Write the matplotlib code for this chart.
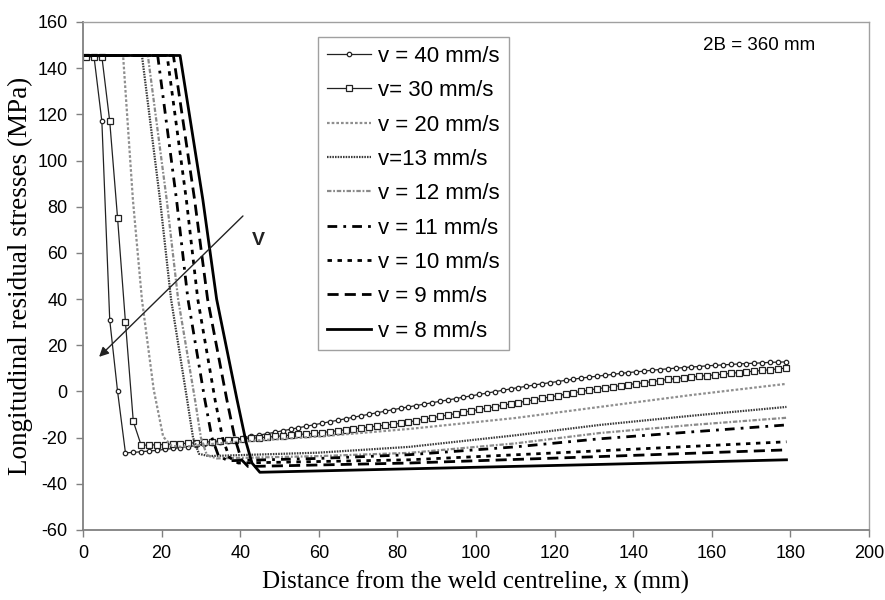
import matplotlib
matplotlib.use("Agg")
import matplotlib.pyplot as plt

# ---------------- data ----------------
# v = 40 mm/s and v = 30 mm/s (marker series, points every ~2 mm)
x_grid = [0.8 + 2 * k for k in range(90)]
y_v40 = [145, 145, 117, 31, 0, -26.6, -26.4, -26.1, -25.8, -25.5,
         -25.1, -24.7, -24.3, -23.9, -23.4, -22.9, -22.4, -21.9, -21.3, -20.7,
         -20.1, -19.5, -18.9, -18.3, -17.7, -17.0, -16.4, -15.7, -15.1, -14.4,
         -13.8, -13.1, -12.5, -11.8, -11.2, -10.5, -9.9, -9.2, -8.6, -7.9,
         -7.3, -6.7, -6.1, -5.5, -4.9, -4.3, -3.7, -3.1, -2.5, -1.9,
         -1.3, -0.7, -0.1, 0.5, 1.1, 1.7, 2.2, 2.8, 3.3, 3.8,
         4.3, 4.8, 5.3, 5.8, 6.2, 6.6, 7.0, 7.4, 7.8, 8.2,
         8.5, 8.8, 9.2, 9.5, 9.8, 10.1, 10.3, 10.6, 10.8, 11.1,
         11.3, 11.5, 11.7, 11.9, 12.1, 12.2, 12.4, 12.6, 12.7, 12.8]
y_v30 = [145, 145, 145, 117, 75, 30, -13, -23.3, -23.2, -23.1,
         -23.0, -22.8, -22.6, -22.4, -22.2, -22.0, -21.7, -21.4, -21.1, -20.9,
         -20.6, -20.3, -20.0, -19.8, -19.5, -19.2, -18.9, -18.6, -18.4, -18.1,
         -17.8, -17.4, -17.0, -16.6, -16.2, -15.8, -15.4, -15.0, -14.6, -14.2,
         -13.8, -13.2, -12.6, -12.0, -11.4, -10.8, -10.2, -9.6, -9.0, -8.4,
         -7.8, -7.2, -6.6, -6.0, -5.4, -4.8, -4.2, -3.6, -3.0, -2.4,
         -1.8, -1.2, -0.6, 0.0, 0.6, 1.2, 1.6, 2.1, 2.5, 3.0,
         3.4, 3.8, 4.3, 4.7, 5.2, 5.6, 5.9, 6.2, 6.6, 6.9,
         7.2, 7.5, 7.8, 8.2, 8.5, 8.8, 9.1, 9.4, 9.8, 10.1]

x_v20 = [0, 10.2, 12.7, 15.0, 18.0, 20.4, 22.5, 25.0, 37.4, 60, 83.2, 110, 131.5, 155, 179]
y_v20 = [145.5, 145.5, 83, 39.7, 0.7, -19.6, -23.5, -24.0, -22.0, -19.5, -16.2, -11.5, -6.7, -1.5, 3.3]

x_v13 = [0, 15.0, 19.6, 22.4, 26.5, 28.0, 29.5, 32.0, 60, 83, 110, 131.5, 155, 179]
y_v13 = [145.5, 145.5, 83, 40, -3.6, -20, -27, -28, -26.5, -24, -19, -14.5, -10.5, -6.7]

x_v12 = [0, 16.5, 21.3, 24.2, 28.5, 30.0, 31.5, 34.0, 60, 83, 110, 131.5, 155, 179]
y_v12 = [145.5, 145.5, 83, 40, -3.6, -20, -27.5, -29, -28, -26.6, -22.5, -18, -14.5, -11.4]

x_v11 = [0, 19.0, 23.8, 26.7, 31.0, 32.8, 34.5, 37.0, 60, 83, 110, 131.5, 155, 179]
y_v11 = [145.5, 145.5, 83, 40, -3.6, -20, -28, -30, -29, -27.4, -24, -20.5, -17.5, -14.5]

x_v10 = [0, 21.4, 26.3, 29.2, 33.6, 35.5, 37.2, 39.5, 83, 131.5, 179]
y_v10 = [145.5, 145.5, 83, 40, -3.6, -20, -28.5, -31, -29.6, -25.7, -21.8]

x_v9 = [0, 23.0, 28.4, 31.7, 36.6, 38.6, 40.3, 42.0, 83, 131.5, 179]
y_v9 = [145.5, 145.5, 83, 40, -3.6, -20, -29.5, -32.5, -31, -28.2, -25.3]

x_v8 = [0, 24.7, 30.5, 34.0, 39.2, 41.5, 43.0, 45.0, 83, 131.5, 179]
y_v8 = [145.5, 145.5, 83, 40, -3.6, -22, -31, -35, -33.5, -31.6, -29.6]

labels = ["v = 40 mm/s", "v= 30 mm/s", "v = 20 mm/s", "v=13 mm/s", "v = 12 mm/s",
          "v = 11 mm/s", "v = 10 mm/s", "v = 9 mm/s", "v = 8 mm/s"]

x_ticks = list(range(0, 201, 20))
y_ticks = list(range(-60, 161, 20))

# ---------------- figure ----------------
W, H, DPI = 885, 600, 100
fig = plt.figure(figsize=(W / DPI, H / DPI), dpi=DPI)
ax = fig.add_axes([83 / W, 1 - 530 / H, (869 - 83) / W, (530 - 22) / H])

ax.plot(x_grid, y_v40, color="#222222", lw=0.9, marker="o", ms=3.2,
        mfc="white", mec="#222222", mew=0.9, label=labels[0])
ax.plot(x_grid, y_v30, color="#222222", lw=0.9, marker="s", ms=4.2,
        mfc="white", mec="#222222", mew=0.9, label=labels[1])
ax.plot(x_v20, y_v20, color="#8f8f8f", lw=1.6, ls=(0, (1.2, 0.9)), label=labels[2])
ax.plot(x_v13, y_v13, color="#3a3a3a", lw=1.6, ls=(0, (0.7, 0.5)), label=labels[3])
ax.plot(x_v12, y_v12, color="#8a8a8a", lw=1.6, ls=(0, (2, 0.8, 0.8, 0.8)), label=labels[4])
ax.plot(x_v11, y_v11, color="black", lw=2.0, ls=(0, (3.5, 2.2, 1.0, 2.2)), label=labels[5])
ax.plot(x_v10, y_v10, color="black", lw=2.0, ls=(0, (1.6, 2.0)), label=labels[6])
ax.plot(x_v9, y_v9, color="black", lw=2.0, ls=(0, (4.0, 2.2)), label=labels[7])
ax.plot(x_v8, y_v8, color="black", lw=2.0, ls="-", label=labels[8])

ax.set_xlim(0, 200)
ax.set_ylim(-60, 160)
ax.set_xticks(x_ticks)
ax.set_yticks(y_ticks)

tick_font = dict(family=["Liberation Sans", "DejaVu Sans"], size=13)
ax.set_xticklabels([str(t) for t in x_ticks], **tick_font)
ax.set_yticklabels([str(t) for t in y_ticks], **tick_font)
ax.tick_params(axis="both", direction="out", length=5, width=1, color="#808080", pad=6)

for side in ["left", "bottom"]:
    ax.spines[side].set_color("#808080")
    ax.spines[side].set_linewidth(1.3)
for side in ["top", "right"]:
    ax.spines[side].set_color("#a0a0a0")
    ax.spines[side].set_linewidth(1.0)

serif = ["Liberation Serif", "DejaVu Serif"]
ax.set_xlabel("Distance from the weld centreline, x (mm)", family=serif, size=18, labelpad=6)
ax.set_ylabel("Longitudinal residual stresses (MPa)", family=serif, size=19.5, labelpad=3)

# arrow with label
ax.annotate("", xy=(4.1, 15), xytext=(40.7, 76),
            arrowprops=dict(arrowstyle="-|>", color="#222222", lw=1.0,
                            mutation_scale=14, shrinkA=0, shrinkB=0))
ax.text(44.5, 65.5, "V", family=["Liberation Sans", "DejaVu Sans"], size=14,
        fontweight="bold", ha="center", va="center", color="#222222")

ax.text(172, 150, "2B = 360 mm", family=["Liberation Sans", "DejaVu Sans"], size=13.5,
        ha="center", va="center")

leg = ax.legend(loc="upper left", bbox_to_anchor=((318 - 83) / 786, (530 - 37) / 508),
                prop=dict(family=["Liberation Sans", "DejaVu Sans"], size=16),
                frameon=True, fancybox=False, edgecolor="#a0a0a0", framealpha=1,
                numpoints=1, handlelength=2.0, handletextpad=0.3,
                labelspacing=0.6, borderpad=0.4, borderaxespad=0)
leg.get_frame().set_linewidth(1.0)

fig.savefig("out.png", dpi=DPI)
